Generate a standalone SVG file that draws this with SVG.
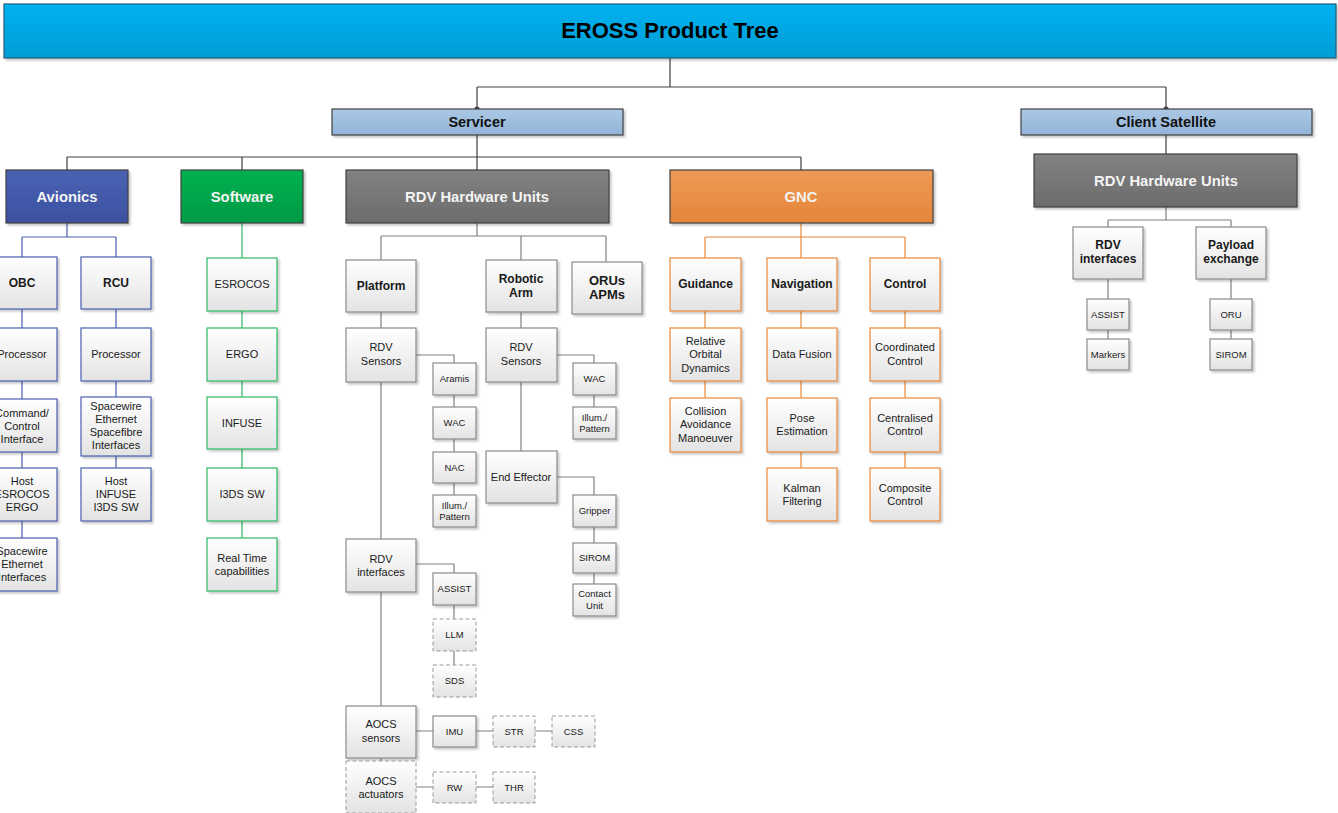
<svg xmlns="http://www.w3.org/2000/svg" width="1338" height="813" viewBox="0 0 1338 813">
<defs>
<linearGradient id="gTitle" x1="0" y1="0" x2="0" y2="1"><stop offset="0" stop-color="#00B2F0"/><stop offset="1" stop-color="#009DD6"/></linearGradient>
<linearGradient id="gServ" x1="0" y1="0" x2="0" y2="1"><stop offset="0" stop-color="#ABC8E5"/><stop offset="1" stop-color="#92B4D7"/></linearGradient>
<linearGradient id="gAv" x1="0" y1="0" x2="0" y2="1"><stop offset="0" stop-color="#4A62B2"/><stop offset="1" stop-color="#3C50A0"/></linearGradient>
<linearGradient id="gSw" x1="0" y1="0" x2="0" y2="1"><stop offset="0" stop-color="#00B150"/><stop offset="1" stop-color="#009A45"/></linearGradient>
<linearGradient id="gHw" x1="0" y1="0" x2="0" y2="1"><stop offset="0" stop-color="#828282"/><stop offset="1" stop-color="#6C6C6C"/></linearGradient>
<linearGradient id="gGn" x1="0" y1="0" x2="0" y2="1"><stop offset="0" stop-color="#EE9A56"/><stop offset="1" stop-color="#E5853A"/></linearGradient>
<linearGradient id="gBox" x1="0" y1="0" x2="0" y2="1"><stop offset="0" stop-color="#FFFFFF"/><stop offset="1" stop-color="#E3E3E3"/></linearGradient>
<filter id="sh" x="-10%" y="-10%" width="130%" height="130%"><feDropShadow dx="2" dy="2" stdDeviation="1" flood-color="#000" flood-opacity="0.22"/></filter>
</defs>
<style>
text{font-family:"Liberation Sans",Arial,sans-serif;text-anchor:middle;fill:#1A1A1A}
.bx{fill:url(#gBox);filter:url(#sh);stroke-width:1.2}
.av{stroke:#4A5EAE}
.sw{stroke:#2DBA62}
.hw{stroke:#8A8A8A}
.gn{stroke:#E8883A}
.ds{stroke:#9A9A9A;stroke-dasharray:4 2.5;fill:url(#gBox)}
.lvl{stroke:#404040;stroke-width:1.2;filter:url(#sh)}
.t11{font-size:11px}
.t10{font-size:9.5px}
.b12{font-size:12px;font-weight:bold}
.b13{font-size:13px;font-weight:bold}
.w14{font-size:14.8px;font-weight:bold;fill:#F4F4F4}
.b14{font-size:14.5px;font-weight:bold;fill:#111}
.cn{fill:none;stroke-width:1.2}
</style>
<g id="connectors">
<path class="cn" stroke="#404040" d="M670 58V87M477 87H1166M477 87V109M1166 87V109M477 135V157M67 157H801M67 157V170M242 157V170M477 157V170M801 157V170M1166 135V154"/>
<circle cx="477" cy="109" r="2.6" fill="#404040"/>
<circle cx="1166" cy="109" r="2.6" fill="#404040"/>
<path class="cn" stroke="#4A5EAE" d="M67 223V237M22 237H116M22 237V257M116 237V257M22 309V328M22 381V399M22 452V468M22 521V538M116 309V328M116 381V397M116 456V468"/>
<path class="cn" stroke="#2DBA62" d="M242 223V258M242 311V328M242 381V397M242 449V468M242 521V538"/>
<path class="cn" stroke="#808080" d="M477 223V236M381 236H606M381 236V260M521 236V260M606 236V262M381 312V328M416 355H454V363M454 395V407M454 439V452M454 483V495M381 382V539M416 564H454V573M454 605V619M454 651V665M381 592V706M416 731H433M476 731H493M535 731H552M381 758V761M416 787H433M476 787H493M521 312V328M557 355H594V363M594 395V407M521 382V451M557 477H594V495M594 527V543M594 573V584M1166 207V220M1108 220H1231M1108 220V227M1231 220V227M1108 279V299M1108 330V339M1231 279V299M1231 330V339"/>
<path class="cn" stroke="#E8883A" d="M801 223V237M705 237H905M705 237V258M801 237V258M905 237V258M705 311V328M705 381V398M801 311V328M801 381V398M801 452V468M905 311V328M905 381V398M905 452V468"/>
</g>
<g id="title"><rect x="4" y="4" width="1332" height="54" fill="url(#gTitle)" stroke="#2A5C7A" stroke-width="1.2" filter="url(#sh)"/><text x="670" y="38" style="font-size:22px;font-weight:bold;fill:#000">EROSS Product Tree</text></g>
<g id="servicer"><rect x="332" y="109" width="291" height="26" fill="url(#gServ)" class="lvl"/><text class="b14" x="477" y="127">Servicer</text></g>
<g id="client"><rect x="1021" y="109" width="291" height="26" fill="url(#gServ)" class="lvl"/><text class="b14" x="1166" y="127">Client Satellite</text></g>
<g id="avionics"><rect x="6" y="170" width="122" height="53" fill="url(#gAv)" class="lvl"/><text class="w14" x="67" y="202">Avionics</text></g>
<g id="software"><rect x="181" y="170" width="122" height="53" fill="url(#gSw)" class="lvl"/><text class="w14" x="242" y="202">Software</text></g>
<g id="rdvhw"><rect x="346" y="170" width="263" height="53" fill="url(#gHw)" class="lvl"/><text class="w14" x="477" y="202">RDV Hardware Units</text></g>
<g id="gnc"><rect x="670" y="170" width="263" height="53" fill="url(#gGn)" class="lvl"/><text class="w14" x="801" y="202">GNC</text></g>
<g id="client-rdvhw"><rect x="1034" y="154" width="263" height="53" fill="url(#gHw)" class="lvl"/><text class="w14" x="1166" y="186">RDV Hardware Units</text></g>

<g id="obc"><rect class="bx av" x="-13" y="257" width="70" height="52"/><text class="b12" x="22" y="287">OBC</text></g>
<g id="obc-proc"><rect class="bx av" x="-13" y="328" width="70" height="53"/><text class="t11" x="22" y="358">Processor</text></g>
<g id="obc-cmd"><rect class="bx av" x="-13" y="399" width="70" height="53"/><text class="t11" x="22" y="417">Command/</text><text class="t11" x="22" y="430">Control</text><text class="t11" x="22" y="443">Interface</text></g>
<g id="obc-host"><rect class="bx av" x="-13" y="468" width="70" height="53"/><text class="t11" x="22" y="485">Host</text><text class="t11" x="22" y="498">ESROCOS</text><text class="t11" x="22" y="511">ERGO</text></g>
<g id="obc-sw"><rect class="bx av" x="-13" y="538" width="70" height="53"/><text class="t11" x="22" y="555">Spacewire</text><text class="t11" x="22" y="568">Ethernet</text><text class="t11" x="22" y="581">Interfaces</text></g>

<g id="rcu"><rect class="bx av" x="81" y="257" width="70" height="52"/><text class="b12" x="116" y="287">RCU</text></g>
<g id="rcu-proc"><rect class="bx av" x="81" y="328" width="70" height="53"/><text class="t11" x="116" y="358">Processor</text></g>
<g id="rcu-if"><rect class="bx av" x="81" y="397" width="70" height="59"/><text class="t11" x="116" y="410">Spacewire</text><text class="t11" x="116" y="423">Ethernet</text><text class="t11" x="116" y="436">Spacefibre</text><text class="t11" x="116" y="449">Interfaces</text></g>
<g id="rcu-host"><rect class="bx av" x="81" y="468" width="70" height="53"/><text class="t11" x="116" y="485">Host</text><text class="t11" x="116" y="498">INFUSE</text><text class="t11" x="116" y="511">I3DS SW</text></g>

<g id="sw-esrocos"><rect class="bx sw" x="207" y="258" width="70" height="53"/><text class="t11" x="242" y="288">ESROCOS</text></g>
<g id="sw-ergo"><rect class="bx sw" x="207" y="328" width="70" height="53"/><text class="t11" x="242" y="358">ERGO</text></g>
<g id="sw-infuse"><rect class="bx sw" x="207" y="397" width="70" height="52"/><text class="t11" x="242" y="427">INFUSE</text></g>
<g id="sw-i3ds"><rect class="bx sw" x="207" y="468" width="70" height="53"/><text class="t11" x="242" y="498">I3DS SW</text></g>
<g id="sw-rt"><rect class="bx sw" x="207" y="538" width="70" height="53"/><text class="t11" x="242" y="562">Real Time</text><text class="t11" x="242" y="575">capabilities</text></g>

<g id="platform"><rect class="bx hw" x="346" y="260" width="70" height="52"/><text class="b12" x="381" y="290">Platform</text></g>
<g id="robotic-arm"><rect class="bx hw" x="486" y="260" width="71" height="52"/><text class="b12" x="521" y="283">Robotic</text><text class="b12" x="521" y="297">Arm</text></g>
<g id="orus"><rect class="bx hw" x="572" y="262" width="70" height="52"/><text class="b13" x="607" y="285">ORUs</text><text class="b13" x="607" y="299">APMs</text></g>
<g id="pf-sensors"><rect class="bx hw" x="346" y="328" width="70" height="54"/><text class="t11" x="381" y="351">RDV</text><text class="t11" x="381" y="365">Sensors</text></g>
<g id="pf-aramis"><rect class="bx hw" x="433" y="363" width="43" height="32"/><text class="t10" x="454.5" y="382">Aramis</text></g>
<g id="pf-wac"><rect class="bx hw" x="433" y="407" width="43" height="32"/><text class="t10" x="454.5" y="426">WAC</text></g>
<g id="pf-nac"><rect class="bx hw" x="433" y="452" width="43" height="31"/><text class="t10" x="454.5" y="471">NAC</text></g>
<g id="pf-illum"><rect class="bx hw" x="433" y="495" width="43" height="32"/><text class="t10" x="454.5" y="509">Illum./</text><text class="t10" x="454.5" y="520">Pattern</text></g>
<g id="pf-interfaces"><rect class="bx hw" x="346" y="539" width="70" height="53"/><text class="t11" x="381" y="563">RDV</text><text class="t11" x="381" y="576">interfaces</text></g>
<g id="pf-assist"><rect class="bx hw" x="433" y="573" width="43" height="32"/><text class="t10" x="454.5" y="592">ASSIST</text></g>
<g id="pf-llm"><rect class="ds" x="433" y="619" width="43" height="32"/><text class="t10" x="454.5" y="638">LLM</text></g>
<g id="pf-sds"><rect class="ds" x="433" y="665" width="43" height="32"/><text class="t10" x="454.5" y="684">SDS</text></g>
<g id="aocs-sensors"><rect class="bx hw" x="346" y="706" width="70" height="52"/><text class="t11" x="381" y="728">AOCS</text><text class="t11" x="381" y="742">sensors</text></g>
<g id="imu"><rect class="bx hw" x="433" y="716" width="43" height="31"/><text class="t10" x="454.5" y="735">IMU</text></g>
<g id="str"><rect class="ds" x="493" y="716" width="42" height="31"/><text class="t10" x="514" y="735">STR</text></g>
<g id="css"><rect class="ds" x="552" y="716" width="43" height="31"/><text class="t10" x="573.5" y="735">CSS</text></g>
<g id="aocs-act"><rect class="ds" x="346" y="761" width="70" height="52"/><text class="t11" x="381" y="785">AOCS</text><text class="t11" x="381" y="798">actuators</text></g>
<g id="rw"><rect class="ds" x="433" y="772" width="43" height="31"/><text class="t10" x="454.5" y="791">RW</text></g>
<g id="thr"><rect class="ds" x="493" y="772" width="42" height="31"/><text class="t10" x="514" y="791">THR</text></g>

<g id="ra-sensors"><rect class="bx hw" x="486" y="328" width="71" height="54"/><text class="t11" x="521" y="351">RDV</text><text class="t11" x="521" y="365">Sensors</text></g>
<g id="ra-wac"><rect class="bx hw" x="573" y="363" width="43" height="32"/><text class="t10" x="594.5" y="382">WAC</text></g>
<g id="ra-illum"><rect class="bx hw" x="573" y="407" width="43" height="32"/><text class="t10" x="594.5" y="421">Illum./</text><text class="t10" x="594.5" y="432">Pattern</text></g>
<g id="end-effector"><rect class="bx hw" x="486" y="451" width="71" height="52"/><text class="t11" x="521" y="481">End Effector</text></g>
<g id="gripper"><rect class="bx hw" x="573" y="495" width="43" height="32"/><text class="t10" x="594.5" y="514">Gripper</text></g>
<g id="ra-sirom"><rect class="bx hw" x="573" y="543" width="43" height="30"/><text class="t10" x="594.5" y="561">SIROM</text></g>
<g id="contact-unit"><rect class="bx hw" x="573" y="584" width="43" height="32"/><text class="t10" x="594.5" y="597">Contact</text><text class="t10" x="594.5" y="609">Unit</text></g>

<g id="guidance"><rect class="bx gn" x="670" y="258" width="71" height="53"/><text class="b12" x="705.5" y="288">Guidance</text></g>
<g id="navigation"><rect class="bx gn" x="767" y="258" width="70" height="53"/><text class="b12" x="802" y="288">Navigation</text></g>
<g id="control"><rect class="bx gn" x="870" y="258" width="70" height="53"/><text class="b12" x="905" y="288">Control</text></g>
<g id="rel-orb"><rect class="bx gn" x="670" y="328" width="71" height="53"/><text class="t11" x="705.5" y="345">Relative</text><text class="t11" x="705.5" y="358">Orbital</text><text class="t11" x="705.5" y="372">Dynamics</text></g>
<g id="coll-av"><rect class="bx gn" x="670" y="398" width="71" height="54"/><text class="t11" x="705.5" y="415">Collision</text><text class="t11" x="705.5" y="428">Avoidance</text><text class="t11" x="705.5" y="442">Manoeuver</text></g>
<g id="data-fusion"><rect class="bx gn" x="767" y="328" width="70" height="53"/><text class="t11" x="802" y="358">Data Fusion</text></g>
<g id="pose-est"><rect class="bx gn" x="767" y="398" width="70" height="54"/><text class="t11" x="802" y="422">Pose</text><text class="t11" x="802" y="435">Estimation</text></g>
<g id="kalman"><rect class="bx gn" x="767" y="468" width="70" height="53"/><text class="t11" x="802" y="492">Kalman</text><text class="t11" x="802" y="505">Filtering</text></g>
<g id="coord-ctrl"><rect class="bx gn" x="870" y="328" width="70" height="53"/><text class="t11" x="905" y="351">Coordinated</text><text class="t11" x="905" y="365">Control</text></g>
<g id="central-ctrl"><rect class="bx gn" x="870" y="398" width="70" height="54"/><text class="t11" x="905" y="422">Centralised</text><text class="t11" x="905" y="435">Control</text></g>
<g id="composite-ctrl"><rect class="bx gn" x="870" y="468" width="70" height="53"/><text class="t11" x="905" y="492">Composite</text><text class="t11" x="905" y="505">Control</text></g>

<g id="cl-interfaces"><rect class="bx hw" x="1073" y="227" width="70" height="52"/><text class="b12" x="1108" y="249">RDV</text><text class="b12" x="1108" y="263">interfaces</text></g>
<g id="cl-payload"><rect class="bx hw" x="1196" y="227" width="70" height="52"/><text class="b12" x="1231" y="249">Payload</text><text class="b12" x="1231" y="263">exchange</text></g>
<g id="cl-assist"><rect class="bx hw" x="1087" y="299" width="42" height="31"/><text class="t10" x="1108" y="318">ASSIST</text></g>
<g id="cl-markers"><rect class="bx hw" x="1087" y="339" width="42" height="31"/><text class="t10" x="1108" y="358">Markers</text></g>
<g id="cl-oru"><rect class="bx hw" x="1210" y="299" width="42" height="31"/><text class="t10" x="1231" y="318">ORU</text></g>
<g id="cl-sirom"><rect class="bx hw" x="1210" y="339" width="42" height="31"/><text class="t10" x="1231" y="358">SIROM</text></g>
</svg>
